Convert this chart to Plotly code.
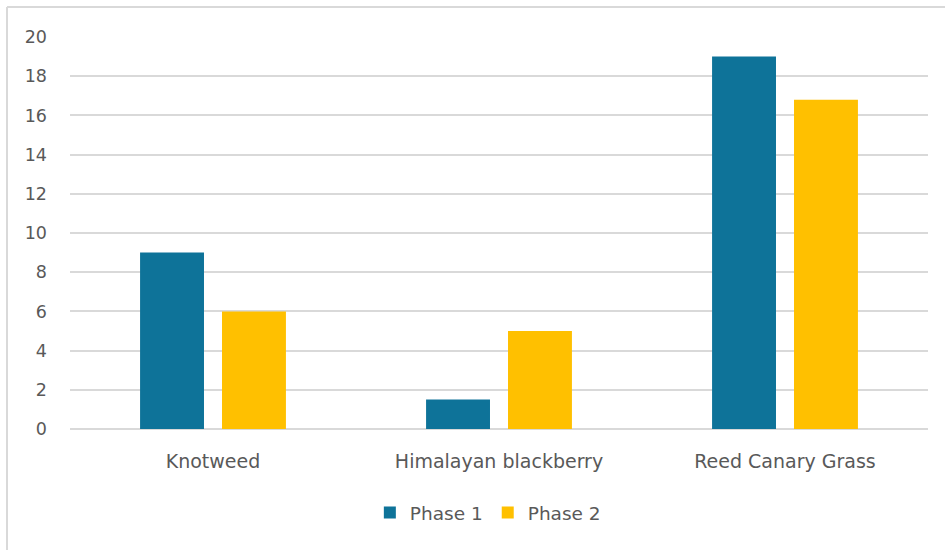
import plotly.graph_objects as go

categories = ["Knotweed", "Himalayan blackberry", "Reed Canary Grass"]
phase1 = [9, 1.5, 19]
phase2 = [6, 5, 16.8]
y_ticks = [0, 2, 4, 6, 8, 10, 12, 14, 16, 18, 20]

BLUE = "#0E7399"
YELLOW = "#FFC000"
TEXT = "#595959"
GRID = "#D9D9D9"
FONT = "DejaVu Sans, Liberation Sans, Arial, sans-serif"

fig = go.Figure()
fig.add_trace(go.Bar(x=categories, y=phase1, name="Phase 1", marker_color=BLUE,
                     marker_line_width=0))
fig.add_trace(go.Bar(x=categories, y=phase2, name="Phase 2", marker_color=YELLOW,
                     marker_line_width=0))

PH = 392  # plot height in px
PW = 858  # plot width in px

fig.update_layout(
    width=945, height=550,
    margin=dict(l=70, r=17, t=37, b=121),
    paper_bgcolor="white", plot_bgcolor="white",
    barmode="group", bargap=0.427, bargroupgap=0.22,
    font=dict(family=FONT, color=TEXT, size=17),
    showlegend=True,
    legend=dict(orientation="h", x=0.487, xanchor="center", y=-84 / PH, yanchor="middle",
                font=dict(size=18.5, color=TEXT), itemwidth=30, traceorder="normal"),
    xaxis=dict(showline=False, ticks="", tickfont=dict(size=19, color=TEXT),
               showgrid=False, ticklabelstandoff=19),
    yaxis=dict(range=[0, 20], tickvals=y_ticks, showgrid=True, gridcolor=GRID,
               gridwidth=1.5, zeroline=True, zerolinecolor=GRID, zerolinewidth=1.5,
               tickfont=dict(size=17.5, color=TEXT), ticks="", ticklabelstandoff=22,
               showline=False),
    shapes=[
        dict(type="line", xref="paper", yref="paper", x0=-63 / PW, x1=1.05,
             y0=(543 - 121) / PH, y1=(543 - 121) / PH,
             line=dict(color=GRID, width=2)),
        dict(type="line", xref="paper", yref="paper", x0=-63 / PW, x1=-63 / PW,
             y0=-0.35, y1=(543 - 121) / PH,
             line=dict(color=GRID, width=2)),
    ],
)

fig.write_html("out.html")
